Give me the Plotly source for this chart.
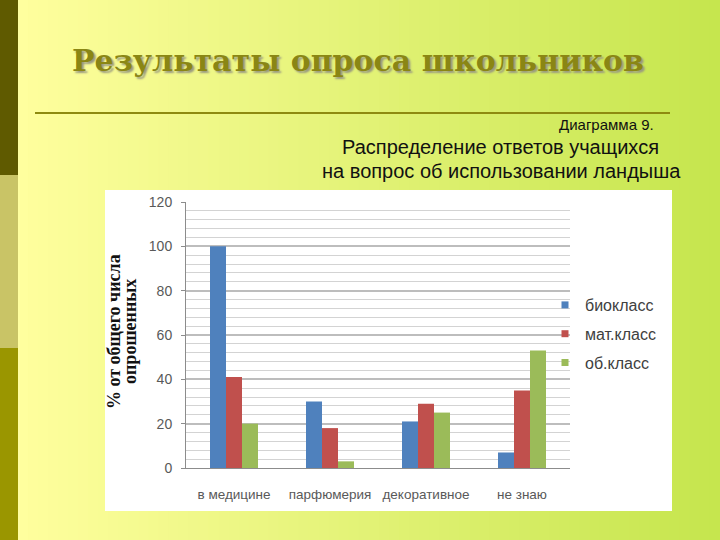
import plotly.graph_objects as go

# survey data
categories = ["в медицине", "парфюмерия", "декоративное", "не знаю"]
bio_class = [100, 30, 21, 7]
math_class = [41, 18, 29, 35]
gen_class = [20, 3, 25, 53]
series_names = ["биокласс", "мат.класс", "об.класс"]
y_ticks = [0, 20, 40, 60, 80, 100, 120]

colors = ["#4F81BD", "#C0504D", "#9BBB59"]

fig = go.Figure()
for i, (name, vals) in enumerate(zip(series_names, [bio_class, math_class, gen_class])):
    fig.add_trace(go.Bar(x=categories, y=vals, name=name, marker_color=colors[i],
                         marker_line_width=0, showlegend=False))
    # small square legend keys, like the original
    fig.add_trace(go.Scatter(x=[None], y=[None], mode="markers", name=name, legendgroup=name,
                             marker=dict(symbol="square", size=7, color=colors[i])))

# slide background: gradient made of thin strips
shapes = []
n = 70
x0 = 18
for k in range(n):
    t = k / (n - 1)
    r = int(255 + (198 - 255) * t)
    g = int(255 + (230 - 255) * t)
    b = int(158 + (78 - 158) * t)
    shapes.append(dict(type="rect", xref="paper", yref="paper", layer="below",
                       x0=(x0 + (720 - x0) * k / n) / 720, x1=(x0 + (720 - x0) * (k + 1) / n + 1) / 720,
                       y0=0, y1=1, line_width=0, fillcolor=f"rgb({r},{g},{b})"))

# left strip blocks
for top, bot, col in [(0, 175, "#5F5A00"), (175, 348, "#C9C466"), (348, 540, "#9A9600")]:
    shapes.append(dict(type="rect", xref="paper", yref="paper", layer="below",
                       x0=0, x1=18 / 720, y0=1 - bot / 540, y1=1 - top / 540,
                       line_width=0, fillcolor=col))

# rule under the title
shapes.append(dict(type="line", xref="paper", yref="paper",
                   x0=35 / 720, x1=670 / 720, y0=1 - 113 / 540, y1=1 - 113 / 540,
                   line=dict(color="#8E8A10", width=2)))

# white chart area
shapes.append(dict(type="rect", xref="paper", yref="paper", layer="below",
                   x0=105 / 720, x1=672 / 720, y0=1 - 511 / 540, y1=1 - 190 / 540,
                   line_width=0, fillcolor="white"))

ytitle_font = dict(family="Liberation Serif", size=18, color="#111111")
annotations = [
    dict(text="<b>Результаты опроса школьников</b>", x=358 / 720, y=1 - 60 / 540,
         font=dict(family="DejaVu Serif", size=30, color="#8A8614",
                   shadow="2px 2px 2px #9A9A80")),
    dict(text="Диаграмма 9.", x=656 / 720, y=1 - 124 / 540, xanchor="right",
         font=dict(family="Liberation Sans", size=15, color="#111111")),
    dict(text="Распределение ответов учащихся", x=500 / 720, y=1 - 147 / 540,
         font=dict(family="Liberation Sans", size=20, color="#111111")),
    dict(text="на вопрос об использовании ландыша", x=501 / 720, y=1 - 171 / 540,
         font=dict(family="Liberation Sans", size=20, color="#111111")),
    dict(text="<b>% от общего числа</b>", x=114 / 720, y=1 - 332 / 540, textangle=-90,
         font=ytitle_font),
    dict(text="<b>опрошенных</b>", x=130 / 720, y=1 - 332 / 540, textangle=-90,
         font=ytitle_font),
]
for a in annotations:
    a.update(xref="paper", yref="paper", showarrow=False)
    a.setdefault("xanchor", "center")
    a.setdefault("yanchor", "middle")

fig.update_layout(
    width=720, height=540,
    margin=dict(l=0, r=0, t=0, b=0, autoexpand=False),
    paper_bgcolor="#FFFFA0",
    plot_bgcolor="white",
    barmode="group",
    bargap=0.5,
    bargroupgap=0,
    shapes=shapes,
    annotations=annotations,
    font=dict(family="Liberation Sans", color="#595959"),
    legend=dict(x=545 / 720, y=1 - 288 / 540, xanchor="left", yanchor="top",
                font=dict(size=16, color="#404040"), bgcolor="rgba(0,0,0,0)",
                tracegroupgap=5, itemwidth=30),
    xaxis=dict(domain=[186 / 720, 570 / 720], showgrid=False, showline=True, automargin=False,
               linecolor="#8C8C8C", tickfont=dict(size=13.5, color="#595959"),
               ticklabelstandoff=14),
    yaxis=dict(domain=[1 - 468 / 540, 1 - 202 / 540], range=[0, 120], tickvals=y_ticks,
               showline=True, linecolor="#8C8C8C", ticks="outside", ticklen=4, tickcolor="#8C8C8C",
               gridcolor="#BDBDBD", gridwidth=1.5, zeroline=False, automargin=False,
               minor=dict(dtick=4, showgrid=True, gridcolor="#D3D3D3", gridwidth=1),
               tickfont=dict(size=14, color="#595959"), ticklabelstandoff=6),
)

fig.write_html("out.html", config={"displayModeBar": False},
               post_script="document.body.style.margin='0';")
